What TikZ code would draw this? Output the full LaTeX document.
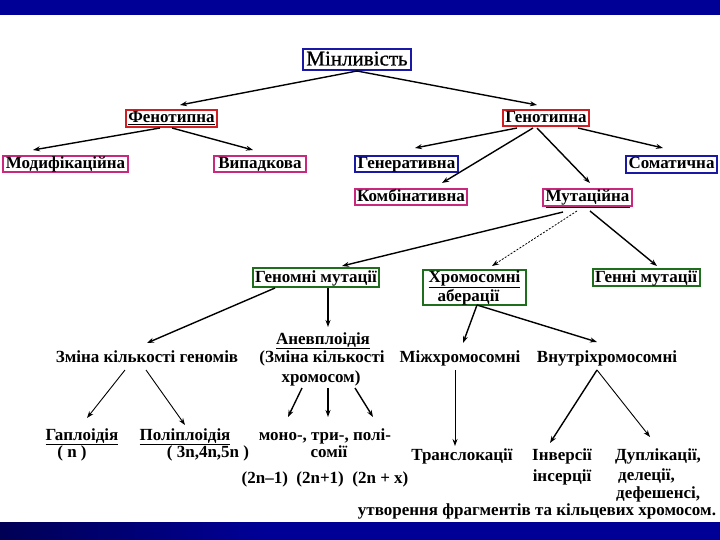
\documentclass[tikz,border=0pt]{standalone}
\usepackage{fontspec}
\setmainfont{Liberation Serif}
\newfontfamily\minfont{Liberation Serif}[FakeBold=0.8]
\usetikzlibrary{arrows.meta}
\definecolor{barblue}{RGB}{0,0,150}
\definecolor{bardark}{RGB}{0,0,85}
\definecolor{bxblue}{RGB}{25,25,165}
\definecolor{bxred}{RGB}{210,30,35}
\definecolor{bxmag}{RGB}{200,40,125}
\definecolor{bxgreen}{RGB}{30,110,30}
\tikzset{
  bx/.style={draw, line width=2pt, font=\bfseries\fontsize{17}{19}\selectfont,
    inner xsep=2.5pt, inner ysep=1.2pt, text height=11.5pt, text depth=2.5pt},
  lbl/.style={font=\bfseries\fontsize{17}{19}\selectfont, inner sep=0pt, anchor=base},
  lblw/.style={lbl, anchor=base west},
  arr/.style={line width=1.4pt, -{Stealth[length=7pt,width=5pt]}},
  arrthin/.style={line width=0.9pt, -{Stealth[length=7pt,width=5pt]}},
  arrdash/.style={line width=0.8pt, dash pattern=on 2pt off 1.5pt, -{Stealth[length=7pt,width=5pt]}},
}
\begin{document}
\begin{tikzpicture}[x=1pt,y=-1pt]
\useasboundingbox (0,0) rectangle (720,540);
\fill[barblue] (0,0) rectangle (720,15);
\shade[left color=bardark,right color=barblue] (0,522) rectangle (260,540);
\fill[barblue] (259.5,522) rectangle (720,540);

% boxed nodes
\node[bx,draw=bxblue,font=\minfont\fontsize{21}{23}\selectfont,text height=14.5pt,text depth=3.5pt,inner ysep=1.5pt,minimum width=108] (min) at (357,60) {Мінливість};
\node[bx,draw=bxred,minimum width=89] (fen) at (171.5,118.5) {\underline{Фенотипна}};
\node[bx,draw=bxred,minimum width=85] (gen) at (546,118) {Генотипна};
\node[bx,draw=bxmag,minimum width=123] (mod) at (65.5,164) {Модифікаційна};
\node[bx,draw=bxmag,minimum width=92] (vyp) at (260,164) {Випадкова};
\node[bx,draw=bxblue,minimum width=99] (genr) at (406.5,164) {Генеративна};
\node[bx,draw=bxblue,minimum width=87] (som) at (671.5,164.5) {Соматична};
\node[bx,draw=bxmag,minimum width=110] (komb) at (411,197) {Комбінативна};
\node[bx,draw=bxmag,minimum width=87] (mut) at (587.5,197.5) {\underline{Мутаційна}};
\node[bx,draw=bxgreen,minimum width=126,minimum height=19] (genom) at (316,277.5) {Геномні мутації};
\node[bx,draw=bxgreen,minimum width=104] (genn) at (646,277.5) {Генні мутації};
\node[bx,draw=bxgreen,minimum width=103,minimum height=33,align=left,text height={},text depth={},inner xsep=4pt,inner ysep=0.5pt] (chrom) at (474.5,287.5) {\underline{Хромосомні}\\\hspace*{9pt}аберації};

% plain labels
\node[lbl] (zmg) at (147,362) {Зміна кількості геномів};
\node[lbl] (aneu1) at (323,344) {\underline{Аневплоідія}};
\node[lbl] (aneu2) at (322,362) {(Зміна кількості};
\node[lbl] (aneu3) at (321,382) {хромосом)};
\node[lbl] (mizh) at (460,362) {Міжхромосомні};
\node[lbl] (vnut) at (607,362) {Внутріхромосомні};
\node[lbl] (hapl) at (82,440) {\underline{Гаплоідія}};
\node[lbl] (hapln) at (72,457) {( n )};
\node[lbl] (poly) at (185,440) {\underline{Поліплоідія}};
\node[lbl] (polyn) at (208,457) {( 3n,4n,5n )};
\node[lbl] (mono) at (325,440) {моно-, три-, полі-};
\node[lbl] (somi) at (329,457) {сомії};
\node[lbl] (form) at (325,483) {(2n–1)\ \ (2n+1)\ \ (2n + x)};
\node[lbl] (trans) at (462,460) {Транслокації};
\node[lbl] (inv) at (562,460) {Інверсії};
\node[lbl] (ins) at (562,481) {інсерції};
\node[lblw] (dup1) at (615,460) {Дуплікації,};
\node[lblw] (dup2) at (618,480) {делеції,};
\node[lblw] (dup3) at (616,498.5) {дефешенсі,};
\node[lbl] (utv) at (537,515) {утворення фрагментів та кільцевих хромосом.};

% connectors
\draw[arr] ([shift={(0,11)}]min.center) -- ([shift={(8.5,-13.5)}]fen.center);
\draw[arr] ([shift={(0,11)}]min.center) -- ([shift={(-9,-13)}]gen.center);
\draw[arr] ([shift={(-11.5,9.5)}]fen.center) -- ([shift={(-32.5,-14)}]mod.center);
\draw[arr] ([shift={(0.5,9.5)}]fen.center) -- ([shift={(-7,-14)}]vyp.center);
\draw[arr] ([shift={(-29,10)}]gen.center) -- ([shift={(8.5,-16)}]genr.center);
\draw[arr] ([shift={(-13,10)}]gen.center) -- ([shift={(31,-14)}]komb.center);
\draw[arr] ([shift={(-9,10)}]gen.center) -- ([shift={(2.5,-14.5)}]mut.center);
\draw[arr] ([shift={(32,10)}]gen.center) -- ([shift={(-8.5,-16.5)}]som.center);
\draw[arr] ([shift={(-24.5,14.5)}]mut.center) -- ([shift={(26,-11.5)}]genom.center);
\draw[arrdash] ([shift={(-10.5,13.5)}]mut.center) -- ([shift={(17.5,-21.5)}]chrom.center);
\draw[arr] ([shift={(2.5,13.5)}]mut.center) -- ([shift={(11,-11.5)}]genn.center);
\draw[arr] ([shift={(-41,10.5)}]genom.center) -- ([shift={(0,-19)}]zmg.base);
\draw[arr] ([shift={(12,10.5)}]genom.center) -- ([shift={(5,-17)}]aneu1.base);
\draw[arr] ([shift={(2.5,17.5)}]chrom.center) -- ([shift={(3,-19)}]mizh.base);
\draw[arr] ([shift={(2.5,17.5)}]chrom.center) -- ([shift={(-10,-20)}]vnut.base);
\draw[arrthin] ([shift={(-22,8)}]zmg.base) -- ([shift={(5,-22)}]hapl.base);
\draw[arrthin] ([shift={(-1,8)}]zmg.base) -- ([shift={(0,-15)}]poly.base);
\draw[arr] ([shift={(-19,6)}]aneu3.base) -- ([shift={(-37,-23)}]mono.base);
\draw[arr] ([shift={(7,6)}]aneu3.base) -- ([shift={(3,-23)}]mono.base);
\draw[arr] ([shift={(34,6)}]aneu3.base) -- ([shift={(48,-23)}]mono.base);
\draw[arrthin] ([shift={(-5,8)}]mizh.base) -- ([shift={(-7,-14)}]trans.base);
\draw[arr] ([shift={(-10,8)}]vnut.base) -- ([shift={(-12,-17)}]inv.base);
\draw[arrthin] ([shift={(-10,8)}]vnut.base) -- ([shift={(35,-23)}]dup1.base west);
\end{tikzpicture}
\end{document}
